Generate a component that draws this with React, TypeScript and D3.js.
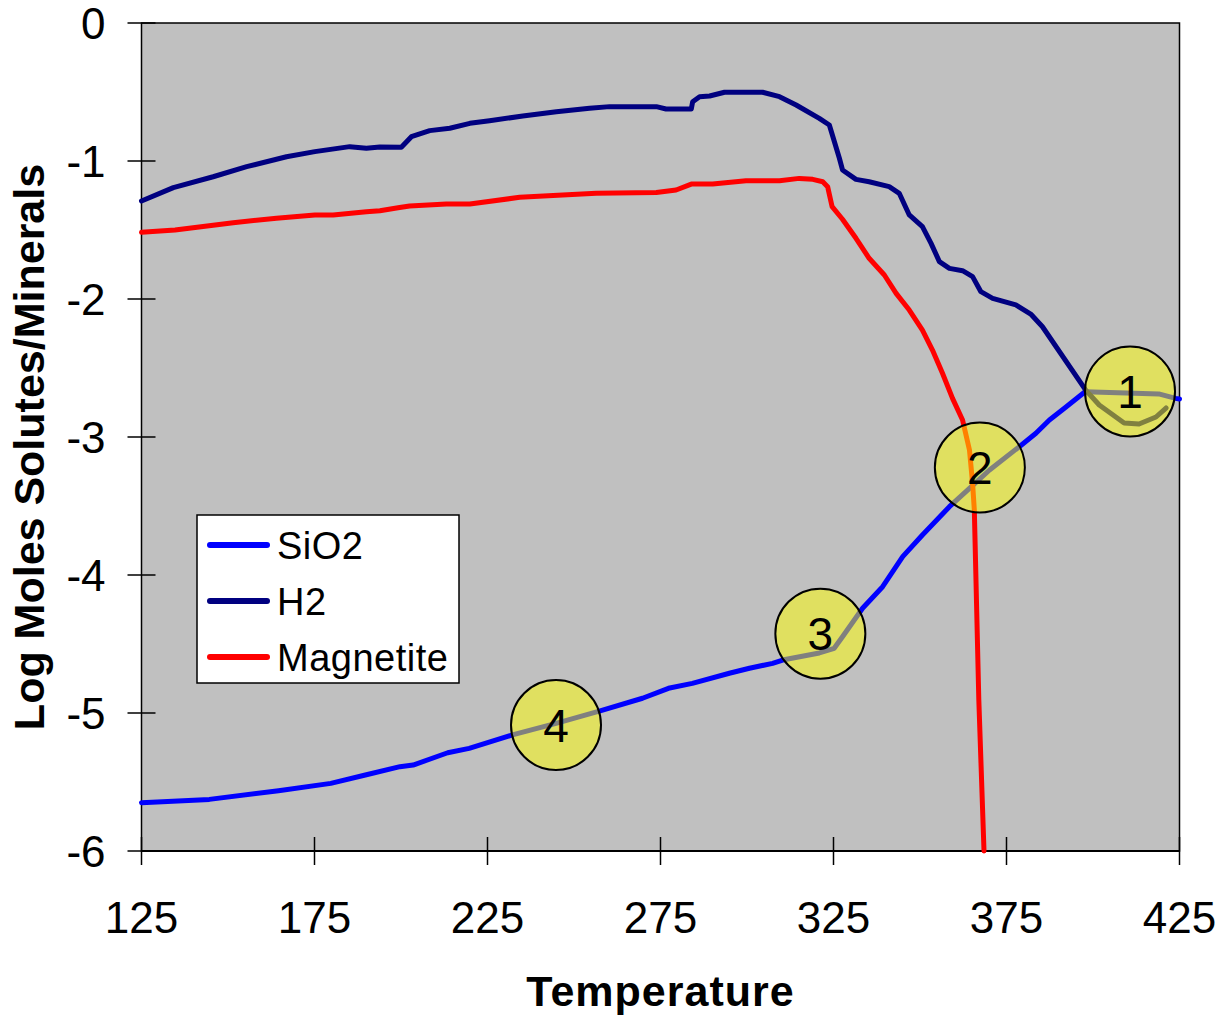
import React from 'react'
import * as d3 from 'd3'

// values (temperature, log moles)
const sio2T = [125, 144.6, 164.6, 179.7, 189.7, 199.7, 203.5, 213.5, 219.7, 232.2, 244.8, 257.3, 269.8, 277.3, 284.2, 294.9, 300.7, 307.4, 310.3, 320.9, 325.2, 327.6, 333.4, 339.2, 345.0, 350.7, 358.5, 364.3, 370.1, 378.7, 383.5, 387.4, 392.1, 397.7, 419.0, 423.9, 425]
const sio2V = [-5.65, -5.626, -5.563, -5.51, -5.449, -5.389, -5.377, -5.288, -5.256, -5.159, -5.075, -4.986, -4.893, -4.821, -4.785, -4.712, -4.676, -4.64, -4.616, -4.565, -4.531, -4.447, -4.241, -4.085, -3.867, -3.71, -3.505, -3.372, -3.239, -3.07, -2.973, -2.877, -2.785, -2.672, -2.688, -2.72, -2.725]

const h2T = [125, 134.2, 145.7, 155.4, 166.9, 175.1, 185.2, 190.0, 193.9, 200.1, 203.0, 208.3, 214.1, 219.9, 225.6, 235.2, 244.9, 254.5, 260.3, 273.8, 276.6, 283.9, 284.3, 286.3, 289.2, 293.5, 304.5, 309.4, 314.2, 320.9, 323.8, 326.7, 327.6, 331.5, 335.3, 341.1, 344.0, 346.9, 350.7, 353.2, 355.6, 358.5, 362.3, 365.2, 367.6, 371.0, 377.7, 382.0, 385.4, 397.9, 401.8, 409.0, 413.3, 418.2, 421.1]
const h2V = [-1.29, -1.193, -1.114, -1.041, -0.969, -0.932, -0.896, -0.908, -0.898, -0.901, -0.824, -0.78, -0.763, -0.727, -0.708, -0.674, -0.643, -0.618, -0.606, -0.606, -0.623, -0.623, -0.57, -0.534, -0.529, -0.502, -0.502, -0.534, -0.594, -0.691, -0.739, -0.98, -1.065, -1.133, -1.15, -1.186, -1.234, -1.391, -1.476, -1.597, -1.729, -1.778, -1.795, -1.838, -1.947, -1.995, -2.043, -2.109, -2.201, -2.66, -2.768, -2.899, -2.906, -2.855, -2.79]

const magT = [125, 134.7, 151.5, 164.0, 175.1, 180.4, 190.0, 193.9, 199.6, 202.5, 213.1, 219.9, 234.3, 256.4, 273.8, 279.5, 283.9, 290.1, 299.7, 309.4, 315.1, 319.0, 321.9, 323.3, 324.6, 327.6, 331.5, 335.3, 339.7, 343.1, 346.9, 350.7, 353.6, 356.5, 359.4, 362.3, 364.3, 365.2, 365.7, 367.0, 368.5]
const magV = [-1.517, -1.5, -1.447, -1.415, -1.391, -1.391, -1.367, -1.36, -1.337, -1.326, -1.312, -1.312, -1.263, -1.234, -1.229, -1.21, -1.167, -1.167, -1.143, -1.143, -1.126, -1.133, -1.15, -1.186, -1.331, -1.422, -1.56, -1.705, -1.826, -1.959, -2.08, -2.225, -2.37, -2.538, -2.72, -2.877, -3.094, -3.336, -3.529, -4.906, -6.0]

const seriesNames = ['SiO2', 'H2', 'Magnetite']
const seriesColors = ['#0000ff', '#000080', '#ff0000']

// numbered markers
const markLabels = ['1', '2', '3', '4']
const markT = [410.7, 367.3, 321.2, 244.8]
const markV = [-2.67, -3.221, -4.425, -5.087]

const xTicks = [125, 175, 225, 275, 325, 375, 425]
const yTicks = [0, -1, -2, -3, -4, -5, -6]

const font = '"Liberation Sans", Arial, sans-serif'

export default function App() {
  const width = 1218, height = 1020
  const margin = { top: 23, right: 38.5, bottom: 169, left: 141.5 }
  const w = width - margin.left - margin.right
  const h = height - margin.top - margin.bottom

  const x = d3.scaleLinear().domain([125, 425]).range([0, w])
  const y = d3.scaleLinear().domain([-6, 0]).range([h, 0])

  const line = d3.line<[number, number]>()
    .x(d => x(d[0]))
    .y(d => y(d[1]))

  const series = [
    d3.zip(sio2T, sio2V) as [number, number][],
    d3.zip(h2T, h2V) as [number, number][],
    d3.zip(magT, magV) as [number, number][],
  ]

  return (
    <svg width={width} height={height} style={{ position: 'absolute', left: 0, top: 0 }} fontFamily={font}>
      <rect width={width} height={height} fill="#fff" />
      <g transform={`translate(${margin.left},${margin.top})`}>
        <rect width={w} height={h} fill="#c0c0c0" stroke="#000" strokeWidth={1.5} />

        {yTicks.map(t => (
          <g key={t} transform={`translate(0,${y(t)})`}>
            <line x1={-14} x2={14} stroke="#000" strokeWidth={1.5} />
            <text x={-36} dy="0.36em" textAnchor="end" fontSize={44}>{t}</text>
          </g>
        ))}
        {xTicks.map(t => (
          <g key={t} transform={`translate(${x(t)},${h})`}>
            <line y1={-14} y2={14} stroke="#000" strokeWidth={1.5} />
            <text y={82} textAnchor="middle" fontSize={44}>{t}</text>
          </g>
        ))}
        <line x1={0} x2={w} y1={h} y2={h} stroke="#000" strokeWidth={2} />

        {series.map((s, i) => (
          <path key={i} d={line(s) || ''} fill="none" stroke={seriesColors[i]}
            strokeWidth={5} strokeLinejoin="round" strokeLinecap="round" />
        ))}

        {markLabels.map((m, i) => (
          <g key={m} transform={`translate(${x(markT[i])},${y(markV[i])})`}>
            <circle r={45} fill="#ffff00" fillOpacity={0.5} stroke="#000" strokeWidth={2} />
            <text dy="0.36em" textAnchor="middle" fontSize={46}>{m}</text>
          </g>
        ))}

        <g transform={`translate(${197 - margin.left},${515 - margin.top})`}>
          <rect width={262} height={168} fill="#fff" stroke="#000" strokeWidth={1.5} />
          {seriesNames.map((n, i) => (
            <g key={n} transform={`translate(0,${30 + i * 56})`}>
              <line x1={13} x2={70} stroke={seriesColors[i]} strokeWidth={6} strokeLinecap="round" />
              <text x={80} dy="0.36em" fontSize={38} letterSpacing={0.5}>{n}</text>
            </g>
          ))}
        </g>
      </g>

      <text transform="translate(44,447) rotate(-90)" textAnchor="middle" fontSize={43} fontWeight="bold">
        Log Moles Solutes/Minerals
      </text>
      <text x={660.5} y={1006} textAnchor="middle" fontSize={43} fontWeight="bold" letterSpacing={1}>
        Temperature
      </text>
    </svg>
  )
}
